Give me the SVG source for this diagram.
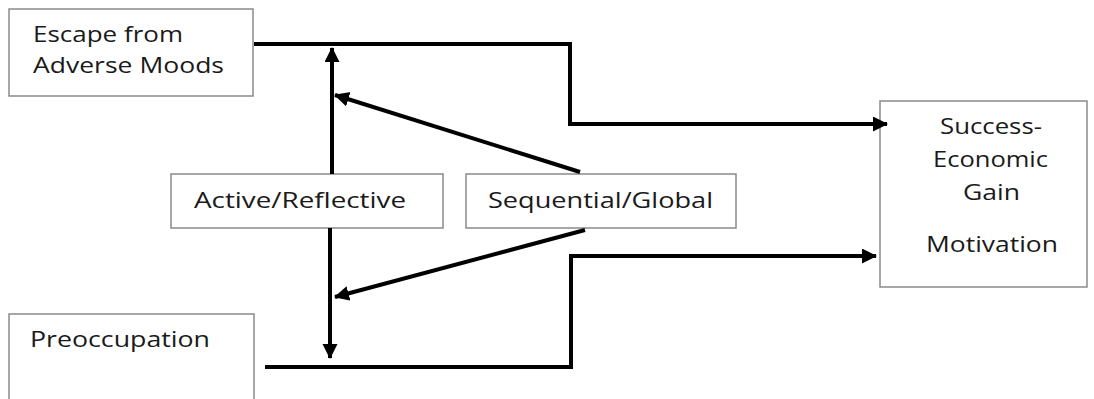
<svg xmlns="http://www.w3.org/2000/svg" width="1094" height="399" viewBox="0 0 1094 399">
<style>
.box{fill:#fff;stroke:#8a8a8a;stroke-width:1.5}
.t{font-family:"Open Sans","Liberation Sans",sans-serif;font-size:22px;fill:#1a1a1a}
.c{fill:none;stroke:#000;stroke-width:4}
</style>
<defs>
<marker id="ah" markerUnits="userSpaceOnUse" markerWidth="16" markerHeight="16" refX="14" refY="7.5" orient="auto">
<path d="M0,0 L15,7.5 L0,15 z" fill="#000"/>
</marker>
</defs>
<rect width="1094" height="399" fill="#fff"/>
<g id="escape">
<rect class="box" x="9" y="9" width="244" height="87"/>
<text class="t" x="33" y="42" textLength="150" lengthAdjust="spacingAndGlyphs">Escape from</text>
<text class="t" x="33" y="73" textLength="191" lengthAdjust="spacingAndGlyphs">Adverse Moods</text>
</g>
<g id="preoccupation">
<rect class="box" x="9" y="314" width="245" height="100"/>
<text class="t" x="30" y="347" textLength="180" lengthAdjust="spacingAndGlyphs">Preoccupation</text>
</g>
<g id="active">
<rect class="box" x="171" y="174" width="272" height="54"/>
<text class="t" x="194" y="208" textLength="212" lengthAdjust="spacingAndGlyphs">Active/Reflective</text>
</g>
<g id="sequential">
<rect class="box" x="466" y="174" width="270" height="54"/>
<text class="t" x="488" y="208" textLength="225" lengthAdjust="spacingAndGlyphs">Sequential/Global</text>
</g>
<g id="success">
<rect class="box" x="880" y="101" width="207" height="186"/>
<text class="t" x="940" y="134" textLength="102" lengthAdjust="spacingAndGlyphs">Success-</text>
<text class="t" x="933" y="167" textLength="115" lengthAdjust="spacingAndGlyphs">Economic</text>
<text class="t" x="963" y="200" textLength="57" lengthAdjust="spacingAndGlyphs">Gain</text>
<text class="t" x="926" y="252" textLength="132" lengthAdjust="spacingAndGlyphs">Motivation</text>
</g>
<g id="connectors">
<path class="c" d="M254,44 H570 V124 H887" marker-end="url(#ah)"/>
<path class="c" d="M265,367 H571 V256 H876" marker-end="url(#ah)"/>
<path class="c" d="M332,174 V48" marker-end="url(#ah)"/>
<path class="c" d="M330,228 V358" marker-end="url(#ah)"/>
<path class="c" d="M580,172 L335,95" marker-end="url(#ah)"/>
<path class="c" d="M585,230 L335,297" marker-end="url(#ah)"/>
</g>
</svg>
